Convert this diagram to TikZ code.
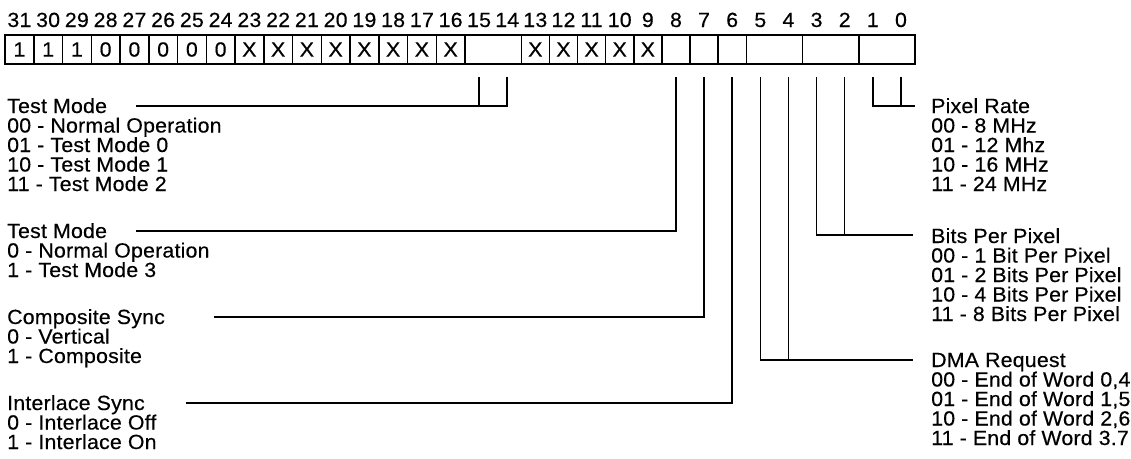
\documentclass[tikz,border=0pt]{standalone}
\usepackage{fontspec}
\setmainfont{Liberation Sans}[FakeStretch=1.04,LetterSpace=1,FakeBold=0.4]
\begin{document}
\begin{tikzpicture}[x=1pt,y=-1pt,
  txt/.style={font=\fontsize{20.5}{19.5}\selectfont, inner sep=0pt, anchor=base west},
  num/.style={font=\fontsize{20.5}{19.5}\selectfont, inner sep=0pt, anchor=base},
  cell/.style={draw, line width=1.5pt, inner sep=0pt, minimum height=29pt, font=\fontsize{20.5}{19.5}\selectfont},
  wire/.style={line width=1.5pt}]
\useasboundingbox (0,0) rectangle (1131,458);
% single-bit cells
\foreach \b/\v in {31/1,30/1,29/1,28/0,27/0,26/0,25/0,24/0,23/X,22/X,21/X,20/X,19/X,18/X,17/X,16/X,13/X,12/X,11/X,10/X,9/X,8/{},7/{},6/{}}{
  \pgfmathsetmacro\cx{\b>15 ? 5+(31-\b)*28.75+14.375 : 465+(15-\b)*28.125+14.0625}
  \pgfmathsetmacro\cw{\b>15 ? 28.75 : 28.125}
  \node[cell, minimum width=\cw pt] (c\b) at (\cx,49.5) {\v};
}
% two-bit fields
\foreach \b in {15,5,3,1}{
  \pgfmathsetmacro\cx{465+(15-\b)*28.125+28.125}
  \node[cell, minimum width=56.25pt] (f\b) at (\cx,49.5) {};
}
% bit numbers
\foreach \b in {0,...,31}{
  \pgfmathsetmacro\cx{\b>15 ? 5+(31-\b)*28.75+14.375 : 465+(15-\b)*28.125+14.0625}
  \node[num] (n\b) at (\cx,27) {\b};
}
% tick tops
\foreach \b in {15,14,8,7,6,5,4,3,2,1,0}{
  \pgfmathsetmacro\cx{465+(15-\b)*28.125+14.0625}
  \coordinate (t\b) at (\cx,77);
}
% left labels
\foreach \t [count=\k from 0] in {Test Mode,00 - Normal Operation,01 - Test Mode 0,10 - Test Mode 1,11 - Test Mode 2}
  \node[txt] (a\k) at (7,{113+\k*19.5}) {\t};
\foreach \t [count=\k from 0] in {Test Mode,0 - Normal Operation,1 - Test Mode 3}
  \node[txt] (b\k) at (7,{238+\k*19.5}) {\t};
\foreach \t [count=\k from 0] in {Composite Sync,0 - Vertical,1 - Composite}
  \node[txt] (c\k) at (7,{324+\k*19.5}) {\t};
\foreach \t [count=\k from 0] in {Interlace Sync,0 - Interlace Off,1 - Interlace On}
  \node[txt] (d\k) at (7,{410+\k*19.5}) {\t};
% right labels
\foreach \t [count=\k from 0] in {Pixel Rate,00 - 8 MHz,01 - 12 Mhz,10 - 16 MHz,11 - 24 MHz}
  \node[txt] (p\k) at (931,{113+\k*19.5}) {\t};
\foreach \t [count=\k from 0] in {Bits Per Pixel,00 - 1 Bit Per Pixel,01 - 2 Bits Per Pixel,10 - 4 Bits Per Pixel,11 - 8 Bits Per Pixel}
  \node[txt] (q\k) at (931,{243+\k*19.5}) {\t};
\foreach \t [count=\k from 0] in {DMA Request,{00 - End of Word 0,4},{01 - End of Word 1,5},{10 - End of Word 2,6},11 - End of Word 3.7}
  \node[txt] (r\k) at (931,{367+\k*19.5}) {\t};
% line ends
\coordinate (h1) at (136,106);
\coordinate (h2) at (136,231);
\coordinate (h3) at (214,317);
\coordinate (h4) at (186,403);
\coordinate (k1) at (915,106);
\coordinate (k2) at (913,235);
\coordinate (k3) at (913,360);
% connectors
\draw[wire] (h1) -| (t14);
\draw[wire] (t15) -- (t15 |- h1);
\draw[wire] (h2) -| (t8);
\draw[wire] (h3) -| (t7);
\draw[wire] (h4) -| (t6);
\draw[wire] (t1) |- (k1);
\draw[wire] (t0) -- (t0 |- k1);
\draw[wire] (t3) |- (k2);
\draw[wire] (t2) -- (t2 |- k2);
\draw[wire] (t5) |- (k3);
\draw[wire] (t4) -- (t4 |- k3);
\end{tikzpicture}
\end{document}
